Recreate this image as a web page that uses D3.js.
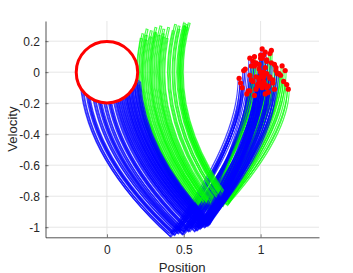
<!DOCTYPE html>
<html>
<head>
<meta charset="utf-8">
<script src="https://cdn.jsdelivr.net/npm/d3@7"></script>
<style>
  body { margin: 0; background: #fff; }
  svg { display: block; font-family: "Liberation Sans", Arial, sans-serif; }
</style>
</head>
<body>
<div id="chart"></div>
<script>
////////////////////////////  Data  ////////////////////////////

// ticks
const xTicks = [0, 0.5, 1];
const yTicks = [-1, -0.8, -0.6, -0.4, -0.2, 0, 0.2];

// blue runs: apex position, start velocity, bottom corner, end point
const blueX0 = [-0.17,-0.165,-0.14,-0.135,-0.13,-0.10,-0.095,-0.07,-0.065,-0.06,
  -0.035,-0.03,-0.005,0.0,0.005,0.03,0.035,0.05,0.055,0.06,
  0.075,0.08,0.085,0.10,0.105,0.11,0.12,0.125,0.13,0.14,
  0.145,0.15,0.16,0.165,0.17,0.18,0.185,0.19,0.20,0.205,0.21];
const blueStartV = [-0.08,-0.07,-0.09,-0.06,-0.08,-0.07,-0.05,-0.09,-0.06,-0.08,
  -0.07,-0.06,-0.08,-0.05,-0.07,-0.09,-0.06,-0.08,-0.07,-0.05,
  -0.08,-0.06,-0.09,-0.07,-0.05,-0.08,-0.06,-0.07,-0.09,-0.05,
  -0.08,-0.06,-0.07,-0.09,-0.05,-0.08,-0.06,-0.07,-0.05,-0.08,-0.06];
const blueBotX = [0.41,0.415,0.43,0.44,0.44,0.46,0.465,0.49,0.49,0.50,
  0.50,0.505,0.53,0.53,0.54,0.57,0.57,0.58,0.585,0.59,
  0.60,0.605,0.61,0.61,0.615,0.62,0.63,0.635,0.64,0.64,
  0.645,0.65,0.65,0.655,0.66,0.66,0.665,0.67,0.66,0.665,0.67];
const blueBotV = [-1.05,-1.055,-1.04,-1.045,-1.04,-1.03,-1.035,-1.04,-1.035,-1.04,
  -1.02,-1.025,-1.02,-1.015,-1.02,-1.02,-1.015,-1.01,-1.015,-1.01,
  -1.00,-1.005,-1.00,-0.99,-0.995,-0.99,-0.99,-0.995,-0.99,-0.98,
  -0.985,-0.98,-0.98,-0.985,-0.98,-0.97,-0.975,-0.97,-0.96,-0.965,-0.96];
const blueEndX = [0.86,0.88,0.90,0.87,0.92,0.89,0.94,0.91,0.96,1.03,
  0.93,0.98,0.95,0.97,1.00,0.99,0.93,1.02,0.96,1.01,
  1.01,1.04,0.98,1.03,0.97,1.06,1.00,1.05,1.09,1.02,
  1.08,1.04,1.01,1.07,0.99,1.04,1.10,1.03,1.06,1.00,1.11];
const blueEndV = [-0.04,-0.10,0.02,-0.07,-0.12,0.01,-0.05,-0.14,0.04,-0.08,
  -0.02,-0.08,0.07,-0.11,-0.03,0.05,0.09,-0.06,-0.15,0.15,
  0.09,-0.01,-0.09,0.03,-0.03,-0.04,0.11,-0.13,-0.11,0.00,
  -0.07,0.07,-0.02,0.06,-0.05,-0.10,0.01,0.13,-0.03,-0.08,-0.01];

// green runs
const greenX0 = [0.20,0.205,0.225,0.23,0.235,0.255,0.26,0.28,0.285,0.29,
  0.31,0.315,0.335,0.34,0.345,0.365,0.37,0.40,0.405,0.43,
  0.435,0.46,0.465,0.48,0.485,0.47,0.49];
const greenStartV = [0.22,0.25,0.28,0.24,0.21,0.27,0.23,0.29,0.26,0.25,
  0.30,0.24,0.28,0.25,0.23,0.29,0.22,0.27,0.31,0.30,
  0.28,0.32,0.30,0.31,0.29,0.30,0.32];
const greenBotX = [0.57,0.575,0.60,0.60,0.605,0.62,0.62,0.64,0.645,0.65,
  0.66,0.665,0.67,0.675,0.68,0.69,0.695,0.72,0.725,0.75,
  0.755,0.77,0.78,0.79,0.795,0.785,0.80];
const greenBotV = [-0.88,-0.885,-0.89,-0.885,-0.89,-0.88,-0.875,-0.88,-0.875,-0.88,
  -0.87,-0.875,-0.86,-0.865,-0.86,-0.86,-0.855,-0.86,-0.855,-0.85,
  -0.855,-0.84,-0.845,-0.84,-0.835,-0.85,-0.83];
const greenEndX = [0.95,0.99,0.93,1.02,1.00,0.97,1.05,1.00,1.08,0.94,
  0.96,1.03,1.10,0.99,1.02,1.06,1.13,1.01,1.09,1.15,
  1.04,1.12,1.17,1.07,1.16,1.14,1.18];
const greenEndV = [-0.06,0.02,-0.12,-0.03,0.09,0.06,-0.09,0.00,-0.05,0.04,
  0.10,-0.14,0.03,-0.07,0.11,0.12,-0.02,-0.10,0.05,-0.06,
  0.08,-0.01,-0.08,0.14,0.01,0.04,-0.11];

// target region
const goalCenter = [0, 0];
const goalRadius = 0.2;

////////////////////////////  Init  ////////////////////////////

const width = 353;
const height = 273;

const svg = d3.select("#chart").append("svg")
  .attr("width", width)
  .attr("height", height);

const x = d3.scaleLinear().domain([-0.4, 1.38]).range([45.5, 319]);
const y = d3.scaleLinear().domain([-1.065, 0.33]).range([237.3, 21]);

const axisColor = "#262626";

// outline filter (runs are drawn as thin outlined strokes)
svg.append("defs").append("filter")
  .attr("id", "outline")
  .attr("filterUnits", "userSpaceOnUse")
  .attr("x", 0).attr("y", 0).attr("width", width).attr("height", height)
  .call((f) => {
    f.append("feMorphology").attr("in", "SourceAlpha")
      .attr("operator", "erode").attr("radius", 1).attr("result", "er");
    f.append("feComposite").attr("in", "SourceGraphic")
      .attr("in2", "er").attr("operator", "out");
  });

// grid
svg.append("g").selectAll("line").data(xTicks).join("line")
  .attr("x1", (d) => x(d)).attr("x2", (d) => x(d))
  .attr("y1", y.range()[0]).attr("y2", y.range()[1])
  .attr("stroke", "#e6e6e6").attr("stroke-width", 1);
svg.append("g").selectAll("line").data(yTicks).join("line")
  .attr("y1", (d) => y(d)).attr("y2", (d) => y(d))
  .attr("x1", x.range()[0]).attr("x2", x.range()[1])
  .attr("stroke", "#e6e6e6").attr("stroke-width", 1);

////////////////////////////  Runs  ////////////////////////////

const runs = [];
const nMax = Math.max(blueX0.length, greenX0.length);
for (let i = 0; i < nMax; i++) {
  if (i < blueX0.length) {
    runs.push({ color: "#0000ff", x0: blueX0[i], v0: blueStartV[i],
      xb: blueBotX[i], vb: blueBotV[i], xe: blueEndX[i], ve: blueEndV[i] });
  }
  if (i < greenX0.length) {
    runs.push({ color: "#00ff00", x0: greenX0[i], v0: greenStartV[i],
      xb: greenBotX[i], vb: greenBotV[i], xe: greenEndX[i], ve: greenEndV[i] });
  }
}

// each run: arc down to the corner, then arc up to the end point
const runPath = (t) => {
  const c = (t.xb - t.x0) / (t.vb * t.vb);
  const p = d3.path();
  p.moveTo(x(t.x0 + c * t.v0 * t.v0), y(t.v0));
  p.quadraticCurveTo(x(t.x0 + c * t.v0 * t.vb), y((t.v0 + t.vb) / 2), x(t.xb), y(t.vb));
  p.quadraticCurveTo(x(t.xe), y(t.vb + 0.6 * (t.ve - t.vb)), x(t.xe), y(t.ve));
  return p.toString();
};

svg.append("g").selectAll("path").data(runs).join("path")
  .attr("d", runPath)
  .attr("fill", "none")
  .attr("stroke", (d) => d.color)
  .attr("stroke-width", 3)
  .attr("stroke-linejoin", "miter")
  .attr("opacity", 0.7)
  .attr("filter", "url(#outline)");

// goal circle
svg.append("circle")
  .attr("cx", x(goalCenter[0]))
  .attr("cy", y(goalCenter[1]))
  .attr("r", x(goalRadius) - x(0))
  .attr("fill", "#fff")
  .attr("stroke", "#ff0000")
  .attr("stroke-width", 3);

// end points
svg.append("g").selectAll("circle").data(runs).join("circle")
  .attr("cx", (d) => x(d.xe))
  .attr("cy", (d) => y(d.ve))
  .attr("r", 2.6)
  .attr("fill", "#ff0000");

////////////////////////////  Axes  ////////////////////////////

const xAxis = svg.append("g")
  .attr("transform", `translate(0, ${y.range()[0]})`)
  .call(d3.axisBottom(x).tickValues(xTicks).tickFormat((d) => String(d))
    .tickSizeInner(-3).tickSizeOuter(0).tickPadding(8));

const yAxis = svg.append("g")
  .attr("transform", `translate(${x.range()[0]}, 0)`)
  .call(d3.axisLeft(y).tickValues(yTicks).tickFormat((d) => String(d))
    .tickSizeInner(-3).tickSizeOuter(0).tickPadding(5.5));

[xAxis, yAxis].forEach((a) => {
  a.select(".domain").attr("stroke", axisColor).attr("stroke-width", 0.8);
  a.selectAll(".tick line").attr("stroke", axisColor).attr("stroke-width", 0.6);
  a.selectAll(".tick text").attr("fill", axisColor)
    .style("font-size", "12px").style("font-family", "'Liberation Sans', Arial, sans-serif");
});

// labels
svg.append("text")
  .attr("x", (x.range()[0] + x.range()[1]) / 2)
  .attr("y", 271.5)
  .attr("text-anchor", "middle")
  .attr("fill", axisColor)
  .style("font-size", "13.2px")
  .text("Position");

svg.append("text")
  .attr("transform", `translate(16.5, ${(y.range()[0] + y.range()[1]) / 2}) rotate(-90)`)
  .attr("text-anchor", "middle")
  .attr("fill", axisColor)
  .style("font-size", "13.2px")
  .text("Velocity");
</script>
</body>
</html>
